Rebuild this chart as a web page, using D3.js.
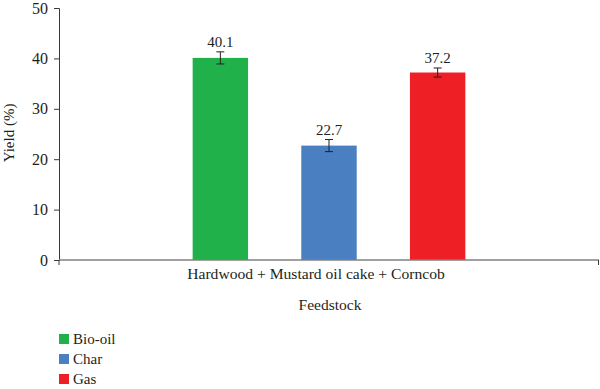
<!DOCTYPE html>
<html><head><meta charset="utf-8">
<script src="https://cdn.jsdelivr.net/npm/d3@7"></script>
<style>body{margin:0;background:#fff}svg{display:block}text{font-family:"Liberation Serif","DejaVu Serif",serif;fill:#231f20}</style>
</head><body><svg id="c" width="600" height="389"></svg>
<script>
const categories = ["Hardwood + Mustard oil cake + Corncob"];
const series = ["Bio-oil", "Char", "Gas"];
const values = [40.1, 22.7, 37.2];
const errors = [1.2, 1.2, 0.9];
const colors = ["#21b14b", "#4a7fc1", "#ee1f25"];
const yTicks = [0, 10, 20, 30, 40, 50];

const svg = d3.select("#c");
const L = 59, R = 599, T = 8, B = 260;
const y = d3.scaleLinear().domain([0, 50]).range([B, T]);
const x0 = d3.scaleBand().domain(categories).range([L, R]);
const x1 = d3.scaleBand().domain(series).range([0, x0.bandwidth()]).paddingInner(0.49).paddingOuter(1.23);
const FF = "Liberation Serif, DejaVu Serif, serif";

// y axis
const ya = svg.append("g").attr("transform", `translate(${L},0)`)
  .call(d3.axisLeft(y).tickValues(yTicks).tickSize(5).tickPadding(6));
ya.attr("font-family", FF);
ya.select(".domain").attr("stroke", "#3a3a3a").attr("stroke-width", 1);
ya.selectAll(".tick line").attr("stroke", "#3a3a3a");
ya.selectAll(".tick text").style("font-size", "16px").style("font-family", FF).attr("fill", "#231f20");

// bars
const g = svg.append("g");
series.forEach((s, i) => {
  const cx = x0(categories[0]) + x1(s);
  g.append("rect").attr("x", cx).attr("y", y(values[i])).attr("width", x1.bandwidth())
    .attr("height", y(0) - y(values[i])).attr("fill", colors[i]);
  const mx = cx + x1.bandwidth() / 2;
  const eb = g.append("g").attr("stroke", "#231f20").attr("stroke-width", 1);
  eb.append("line").attr("x1", mx).attr("x2", mx).attr("y1", y(values[i] + errors[i])).attr("y2", y(values[i] - errors[i]));
  eb.append("line").attr("x1", mx - 4).attr("x2", mx + 4).attr("y1", y(values[i] + errors[i])).attr("y2", y(values[i] + errors[i]));
  eb.append("line").attr("x1", mx - 4).attr("x2", mx + 4).attr("y1", y(values[i] - errors[i])).attr("y2", y(values[i] - errors[i]));
  g.append("text").attr("x", mx).attr("y", y(values[i] + errors[i]) - 5).attr("text-anchor", "middle")
    .style("font-size", "15px").style("font-family", FF).text(values[i].toFixed(1));
});

// x axis
const xa = svg.append("g").attr("transform", `translate(0,${B})`);
xa.append("line").attr("x1", L).attr("x2", R).attr("stroke", "#808080").attr("stroke-width", 1.5);
xa.append("line").attr("x1", L).attr("x2", L).attr("y1", 0).attr("y2", 5).attr("stroke", "#3a3a3a");
xa.append("line").attr("x1", R - 0.5).attr("x2", R - 0.5).attr("y1", 0).attr("y2", 5).attr("stroke", "#3a3a3a");
xa.append("text").attr("x", 316).attr("y", 19).attr("text-anchor", "middle").style("font-size", "15.6px").style("font-family", FF).text(categories[0]);

// axis titles
svg.append("text").attr("x", 330).attr("y", 310).attr("text-anchor", "middle").style("font-size", "15.5px").style("font-family", FF).text("Feedstock");
svg.append("text").attr("transform", "translate(14,133) rotate(-90)").attr("text-anchor", "middle").style("font-size", "15px").style("font-family", FF).text("Yield (%)");

// legend
const lg = svg.append("g");
series.forEach((s, i) => {
  const yy = 339 + i * 20;
  lg.append("rect").attr("x", 59).attr("y", yy - 5).attr("width", 10).attr("height", 10).attr("fill", colors[i]);
  lg.append("text").attr("x", 73).attr("y", yy + 5).style("font-size", "15px").style("font-family", FF).text(s);
});
</script></body></html>
